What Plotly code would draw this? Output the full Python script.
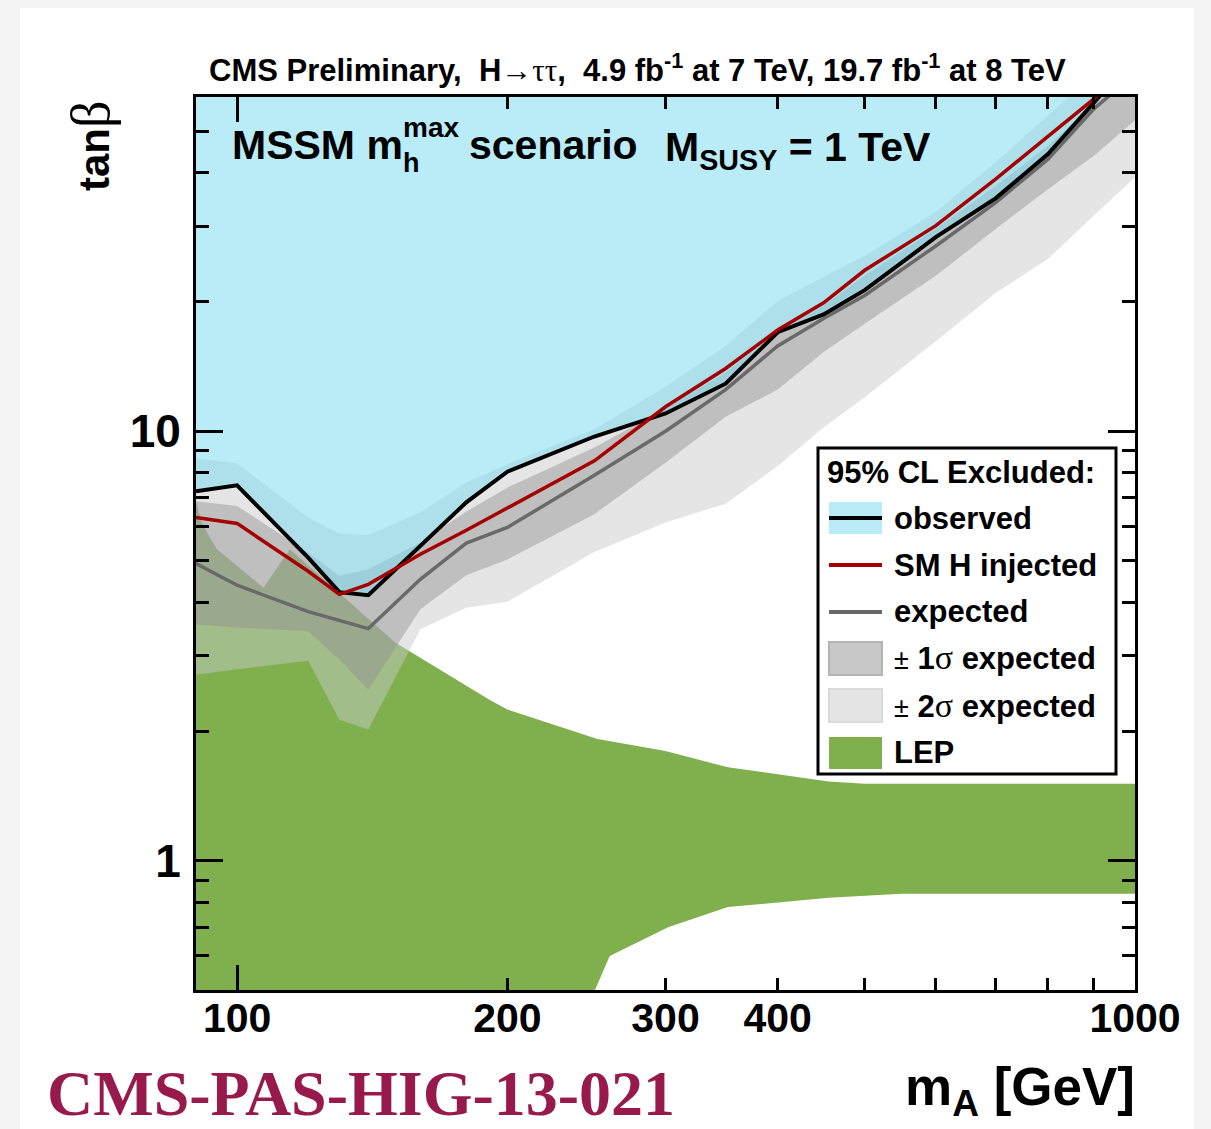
import math
import plotly.graph_objects as go

# ---------------- data ----------------
mA = [90, 100, 120, 130, 140, 160, 180, 200, 250, 300, 350, 400, 450, 500, 600, 700, 800, 900, 1000]
observed = [7.25, 7.48, 5.08, 4.22, 4.15, 5.40, 6.83, 8.05, 9.72, 11.0, 12.9, 17.0, 18.7, 21.3, 28.3, 34.9, 44.2, 58.2, 75.0]
sm_injected = [6.30, 6.10, 4.72, 4.17, 4.40, 5.17, 5.88, 6.62, 8.53, 11.4, 14.0, 17.2, 19.9, 23.7, 30.1, 38.7, 48.7, 59.4, 74.0]
expected = [4.92, 4.38, 3.80, 3.62, 3.47, 4.52, 5.49, 5.97, 7.90, 10.0, 12.5, 15.8, 18.3, 20.7, 27.0, 34.1, 43.0, 56.3, 68.0]
sigma1_up = [6.87, 6.70, 5.22, 4.60, 4.77, 5.51, 6.50, 7.39, 9.16, 11.3, 13.7, 17.0, 19.6, 23.0, 29.6, 37.3, 46.2, 58.0, 70.0]
sigma1_dn = [3.55, 3.49, 3.42, 2.94, 2.50, 3.85, 4.62, 5.03, 6.41, 8.45, 10.8, 12.5, 15.3, 17.8, 23.0, 29.6, 36.6, 43.8, 53.0]
sigma2_up = [8.65, 8.42, 6.30, 5.78, 5.73, 6.47, 7.60, 8.38, 10.1, 12.7, 15.8, 20.1, 22.9, 25.6, 32.4, 42.4, 54.3, 68.0, 82.0]
sigma2_dn = [2.71, 2.79, 2.92, 2.13, 2.02, 3.46, 3.88, 4.01, 5.23, 6.13, 6.78, 8.30, 10.2, 12.0, 16.2, 21.0, 25.2, 31.8, 39.0]

lep_up_mA = [90, 91.3, 93.5, 95, 107, 114.5, 150, 191, 200, 252, 300, 352, 456, 500, 1000]
lep_up = [6.88, 6.13, 5.60, 5.31, 4.32, 5.31, 3.22, 2.37, 2.25, 1.92, 1.80, 1.65, 1.53, 1.51, 1.51]
lep_lo_mA = [90, 245, 260, 302, 352, 456, 550, 1000]
lep_lo = [0.45, 0.45, 0.60, 0.70, 0.78, 0.82, 0.838, 0.838]
exclusion_top = 1000.0

x_major = [100, 1000]
x_labels = [100, 200, 300, 400, 1000]
x_labels_text = ["100", "200", "300", "400", "1000"]
x_minor = [200, 300, 400, 500, 600, 700, 800, 900]
y_major = [1, 10]
y_major_text = ["1", "10"]
y_minor = [0.6, 0.7, 0.8, 0.9, 2, 3, 4, 5, 6, 7, 8, 9, 20, 30, 40, 50]

# ---------------- styling ----------------
SANS = "Liberation Sans, Arial, Helvetica, sans-serif"
SERIF = "Liberation Serif, Times New Roman, serif"
BLUE_ALPHA = "rgba(128,220,240,0.55)"
BLUE_SOLID = "rgb(185,236,247)"
GREEN = "rgb(127,176,77)"
S2 = "rgba(202,202,202,0.49)"
S1 = "rgba(145,145,145,0.45)"
RED = "rgb(165,0,0)"
GRAY = "rgb(105,105,105)"

W, H = 1211, 1129
L, R, T, B = 196, 1135, 97, 990


def X(px):
    return (px - L) / (R - L)


def Y(py):
    return (B - py) / (B - T)


fig = go.Figure()

# LEP excluded region
fig.add_trace(go.Scatter(x=lep_up_mA + lep_lo_mA[::-1], y=lep_up + lep_lo[::-1],
                         fill="toself", fillcolor=GREEN, mode="lines", line=dict(width=0),
                         hoverinfo="skip", showlegend=False))
# +-2 sigma band
fig.add_trace(go.Scatter(x=mA + mA[::-1], y=sigma2_up + sigma2_dn[::-1],
                         fill="toself", fillcolor=S2, mode="lines", line=dict(width=0),
                         hoverinfo="skip", showlegend=False))
# +-1 sigma band
fig.add_trace(go.Scatter(x=mA + mA[::-1], y=sigma1_up + sigma1_dn[::-1],
                         fill="toself", fillcolor=S1, mode="lines", line=dict(width=0),
                         hoverinfo="skip", showlegend=False))
# observed excluded region
fig.add_trace(go.Scatter(x=mA + mA[::-1], y=observed + [exclusion_top] * len(mA),
                         fill="toself", fillcolor=BLUE_ALPHA, mode="lines", line=dict(width=0),
                         hoverinfo="skip", showlegend=False))
# lines
fig.add_trace(go.Scatter(x=mA, y=expected, mode="lines", line=dict(color=GRAY, width=3.5),
                         hoverinfo="skip", showlegend=False))
fig.add_trace(go.Scatter(x=mA, y=observed, mode="lines", line=dict(color="black", width=4),
                         hoverinfo="skip", showlegend=False))
fig.add_trace(go.Scatter(x=mA, y=sm_injected, mode="lines", line=dict(color=RED, width=3.5),
                         hoverinfo="skip", showlegend=False))
# carrier for the label axis
fig.add_trace(go.Scatter(x=[100], y=[1], xaxis="x2", mode="markers", marker=dict(opacity=0),
                         hoverinfo="skip", showlegend=False))

xr = [math.log10(90), 3]
yr = [math.log10(0.5), math.log10(60)]
tickfont_x = dict(family=SANS, size=41, color="black", weight="bold")
tickfont_y = dict(family=SANS, size=46, color="black", weight="bold")

fig.update_layout(
    width=W, height=H,
    margin=dict(l=L, r=W - R, t=T, b=H - B, autoexpand=False),
    paper_bgcolor="#f3f3f3", plot_bgcolor="white", showlegend=False,
    xaxis=dict(type="log", range=xr, showline=True, linecolor="black", linewidth=3,
               mirror="ticks", ticks="inside", ticklen=25, tickwidth=3, tickcolor="black",
               tickmode="array", tickvals=x_major, showticklabels=False,
               showgrid=False, zeroline=False,
               minor=dict(tickmode="array", tickvals=x_minor, ticks="inside", ticklen=12,
                          tickwidth=3, tickcolor="black", showgrid=False)),
    xaxis2=dict(type="log", range=xr, overlaying="x", anchor="y", side="bottom",
                showline=False, ticks="", tickmode="array", tickvals=x_labels,
                ticktext=x_labels_text, tickfont=tickfont_x, showgrid=False,
                zeroline=False, ticklabelstandoff=0),
    yaxis=dict(type="log", range=yr, showline=True, linecolor="black", linewidth=3,
               mirror="ticks", ticks="inside", ticklen=27, tickwidth=3, tickcolor="black",
               tickmode="array", tickvals=y_major, ticktext=y_major_text, tickfont=tickfont_y,
               showgrid=False, zeroline=False, ticklabelstandoff=3,
               minor=dict(tickmode="array", tickvals=y_minor, ticks="inside", ticklen=13,
                          tickwidth=3, tickcolor="black", showgrid=False)),
)

shapes = []
# white card on grey page
shapes.append(dict(type="rect", xref="paper", yref="paper", x0=X(20), x1=X(1194), y0=Y(1160), y1=Y(8),
                   fillcolor="white", line=dict(width=0), layer="below"))
# legend box
shapes.append(dict(type="rect", xref="paper", yref="paper", x0=X(818), x1=X(1116), y0=Y(774), y1=Y(448),
                   fillcolor="white", line=dict(color="black", width=3), layer="above"))
sx0, sx1 = X(829), X(882)
shapes.append(dict(type="rect", xref="paper", yref="paper", x0=sx0, x1=sx1, y0=Y(534), y1=Y(502),
                   fillcolor=BLUE_SOLID, line=dict(width=0), layer="above"))
shapes.append(dict(type="line", xref="paper", yref="paper", x0=sx0, x1=sx1, y0=Y(518), y1=Y(518),
                   line=dict(color="black", width=4), layer="above"))
shapes.append(dict(type="line", xref="paper", yref="paper", x0=sx0, x1=sx1, y0=Y(565), y1=Y(565),
                   line=dict(color=RED, width=4), layer="above"))
shapes.append(dict(type="line", xref="paper", yref="paper", x0=sx0, x1=sx1, y0=Y(612), y1=Y(612),
                   line=dict(color=GRAY, width=4), layer="above"))
shapes.append(dict(type="rect", xref="paper", yref="paper", x0=sx0, x1=sx1, y0=Y(675), y1=Y(642),
                   fillcolor="rgb(200,200,200)", line=dict(color="rgb(180,180,180)", width=2), layer="above"))
shapes.append(dict(type="rect", xref="paper", yref="paper", x0=sx0, x1=sx1, y0=Y(722), y1=Y(689),
                   fillcolor="rgb(229,229,229)", line=dict(color="rgb(218,218,218)", width=2), layer="above"))
shapes.append(dict(type="rect", xref="paper", yref="paper", x0=sx0, x1=sx1, y0=Y(769), y1=Y(737),
                   fillcolor=GREEN, line=dict(width=0), layer="above"))
fig.update_layout(shapes=shapes)


def txt(text, px, py, size, xanchor="left", yanchor="middle", family=SANS, color="black",
        weight="bold", angle=0):
    fig.add_annotation(text=text, xref="paper", yref="paper", x=X(px), y=Y(py),
                       xanchor=xanchor, yanchor=yanchor, showarrow=False, textangle=angle,
                       font=dict(family=family, size=size, color=color, weight=weight))


greek = "font-family:'Liberation Serif';font-weight:normal"
txt("CMS Preliminary,  H<span style=\"" + greek + "\">\u2192\u03c4\u03c4</span>,  "
    "4.9 fb<sup>-1</sup> at 7 TeV, 19.7 fb<sup>-1</sup> at 8 TeV", 207, 68, 31)
txt("MSSM m", 230, 145, 41)
txt("max", 401, 127, 28)
txt("h", 401, 163, 27)
txt("scenario", 467, 145, 41)
txt("M<sub>SUSY</sub> = 1 TeV", 663, 150, 41)

txt("tan<span style=\"" + greek + ";font-size:54px\">\u03b2</span>", 91, 146, 42,
    xanchor="center", angle=-90)
txt("m<sub>A</sub> [GeV]", 1137, 1090, 53, xanchor="right")
txt("CMS-PAS-HIG-13-021", 45, 1093, 64, family=SERIF, color="rgb(152,26,76)", weight="bold")

# legend texts
txt("95% CL Excluded:", 825, 472, 31)
txt("observed", 892, 518, 31)
txt("SM H injected", 892, 565, 31)
txt("expected", 892, 612, 31)
pm = "<span style=\"font-size:27px;font-weight:normal\">\u00b1</span>"
sig = "<span style=\"" + greek + ";font-size:34px\">\u03c3</span>"
txt(pm + " 1" + sig + " expected", 892, 658, 31)
txt(pm + " 2" + sig + " expected", 892, 705, 31)
txt("LEP", 892, 752, 31)

fig.write_html("out.html")
